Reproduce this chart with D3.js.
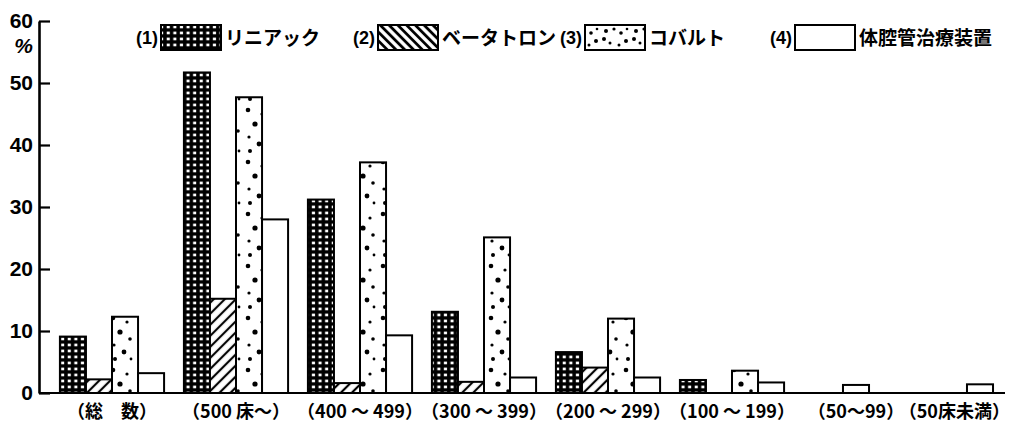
<!DOCTYPE html>
<html><head><meta charset="utf-8">
<script src="https://cdn.jsdelivr.net/npm/d3@7/dist/d3.min.js"></script>
<style>
html,body{margin:0;padding:0;background:#fff;}
svg{display:block;}
</style></head>
<body><svg id="c" width="1012" height="427"></svg>
<script>
// ---- data ----
const categories = ["（総　数）","（500 床～）","（400 ～ 499）","（300 ～ 399）","（200 ～ 299）","（100 ～ 199）","（50～99）","（50床未満）"];
const seriesNames = ["リニアック","ベータトロン","コバルト","体腔管治療装置"];
const seriesNums = ["(1)","(2)","(3)","(4)"];
const linac  = [9.1, 51.7, 31.2, 13.1, 6.6, 2.1, null, null];
const beta   = [2.2, 15.2, 1.6, 1.8, 4.1, null, null, null];
const cobalt = [12.3, 47.7, 37.2, 25.1, 12.0, 3.6, null, null];
const tube   = [3.2, 28.0, 9.3, 2.5, 2.5, 1.7, 1.3, 1.4];
const yTicks = [0,10,20,30,40,50,60];
const yUnit = "%";

// ---- layout / style ----
const W = 1012, H = 427;
const svg = d3.select("#c");
const series = [linac, beta, cobalt, tube];
const keys = d3.range(series.length);
const fills = ["url(#pLinac)","url(#pBeta)","url(#pCobalt)","#fff"];
const legendFills = ["url(#pLinac)","url(#pBetaL)","url(#pCobaltL)","#fff"];
const numFont = "'Liberation Sans','Arial',sans-serif";
const jpFont = "'Noto Sans CJK JP','Noto Sans',sans-serif";

const y = d3.scaleLinear().domain([0,60]).range([393,21]);
const x0 = d3.scaleBand().domain(categories).range([50,1042]).paddingInner(0.16).paddingOuter(0.08);
const x1 = d3.scaleBand().domain(keys).range([0,x0.bandwidth()]);

// ---- patterns ----
const defs = svg.append("defs");
const pl = defs.append("pattern").attr("id","pLinac").attr("patternUnits","userSpaceOnUse")
  .attr("width",6.6).attr("height",6);
pl.append("rect").attr("width",6.6).attr("height",6).attr("fill","#000");
pl.append("rect").attr("x",1.7).attr("y",1.6).attr("width",3.1).attr("height",2.7).attr("fill","#fff");

function hatch(id, angle, size, sw){
  const p = defs.append("pattern").attr("id",id).attr("patternUnits","userSpaceOnUse")
    .attr("width",size).attr("height",size).attr("patternTransform",`rotate(${angle})`);
  p.append("rect").attr("width",size).attr("height",size).attr("fill","#fff");
  p.append("line").attr("x1",size/2).attr("x2",size/2).attr("y1",0).attr("y2",size)
    .attr("stroke","#000").attr("stroke-width",sw);
}
hatch("pBeta", 45, 7.8, 2.2);
hatch("pBetaL", -45, 6.2, 2.8);

function dots(id, w, h, list){
  const p = defs.append("pattern").attr("id",id).attr("patternUnits","userSpaceOnUse")
    .attr("width",w).attr("height",h);
  p.append("rect").attr("width",w).attr("height",h).attr("fill","#fff");
  list.forEach(d=>p.append("circle").attr("cx",d[0]).attr("cy",d[1]).attr("r",d[2]).attr("fill","#000"));
}
dots("pCobalt", 27, 52, [[5,6,2.3],[19,10,1.6],[12,20,2.6],[22,27,1.8],[6,33,1.6],[16,40,2.4],[23,47,1.4],[7,47,2.0]]);
dots("pCobaltL", 30, 25, [[6,6,2.0],[14,4,1.6],[4,14,2.0],[10,18,1.5],[21,8,1.8],[26,16,2.0],[19,20,1.5],[27,4,1.3]]);

// ---- bars ----
const g = svg.append("g");
categories.forEach((c,i)=>{
  const present = keys.filter(k => series[k][i] != null && series[k][i] > 0);
  present.forEach(k=>{
    const v = series[k][i];
    const bx = present.length === 1
      ? x0(c) + (x0.bandwidth() - x1.bandwidth())/2
      : x0(c) + x1(k);
    g.append("rect")
      .attr("x", bx).attr("y", y(v))
      .attr("width", x1.bandwidth()).attr("height", y(0)-y(v))
      .attr("fill", fills[k]).attr("stroke","#000").attr("stroke-width",2);
  });
});

// ---- axes ----
const ya = svg.append("g").attr("transform","translate(39,0)")
  .call(d3.axisLeft(y).tickValues(yTicks).tickSizeInner(-11).tickSizeOuter(0).tickPadding(6));
ya.select(".domain").attr("stroke","#000").attr("stroke-width",2.6);
ya.selectAll(".tick line").attr("stroke","#000").attr("stroke-width",2.2);
ya.selectAll(".tick text").attr("font-family",numFont).attr("font-weight","bold")
  .attr("font-size",21).attr("fill","#000");
svg.append("text").attr("x",33).attr("y",y(60)+32).attr("text-anchor","end")
  .attr("font-family",numFont).attr("font-weight","bold").attr("font-style","italic")
  .attr("font-size",21).text(yUnit);

svg.append("line").attr("x1",39).attr("x2",1005).attr("y1",y(0)).attr("y2",y(0))
  .attr("stroke","#000").attr("stroke-width",2.2);

// x labels
const xl = svg.append("g");
categories.forEach(c=>{
  const t = xl.append("text").attr("x", x0(c)+x0.bandwidth()/2).attr("y", 418)
    .attr("text-anchor","middle").attr("font-family",jpFont).attr("font-size",18)
    .attr("font-weight","bold").attr("fill","#000").text(c);
  const bb = t.node().getBBox();
  if (bb.x + bb.width > 1010) t.attr("x", +t.attr("x") - (bb.x + bb.width - 1010));
});

// ---- legend ----
const legendX = [161, 378, 585, 795];
const lg = svg.append("g");
keys.forEach(k=>{
  const lx = legendX[k];
  lg.append("text").attr("x",lx-3).attr("y",44).attr("text-anchor","end")
    .attr("font-family",numFont).attr("font-weight","bold").attr("font-size",18).text(seriesNums[k]);
  lg.append("rect").attr("x",lx).attr("y",25).attr("width",60).attr("height",25)
    .attr("fill",legendFills[k]).attr("stroke","#000").attr("stroke-width",2);
  lg.append("text").attr("x",lx+64).attr("y",45)
    .attr("font-family",jpFont).attr("font-weight","bold").attr("font-size",19).text(seriesNames[k]);
});
</script></body></html>
